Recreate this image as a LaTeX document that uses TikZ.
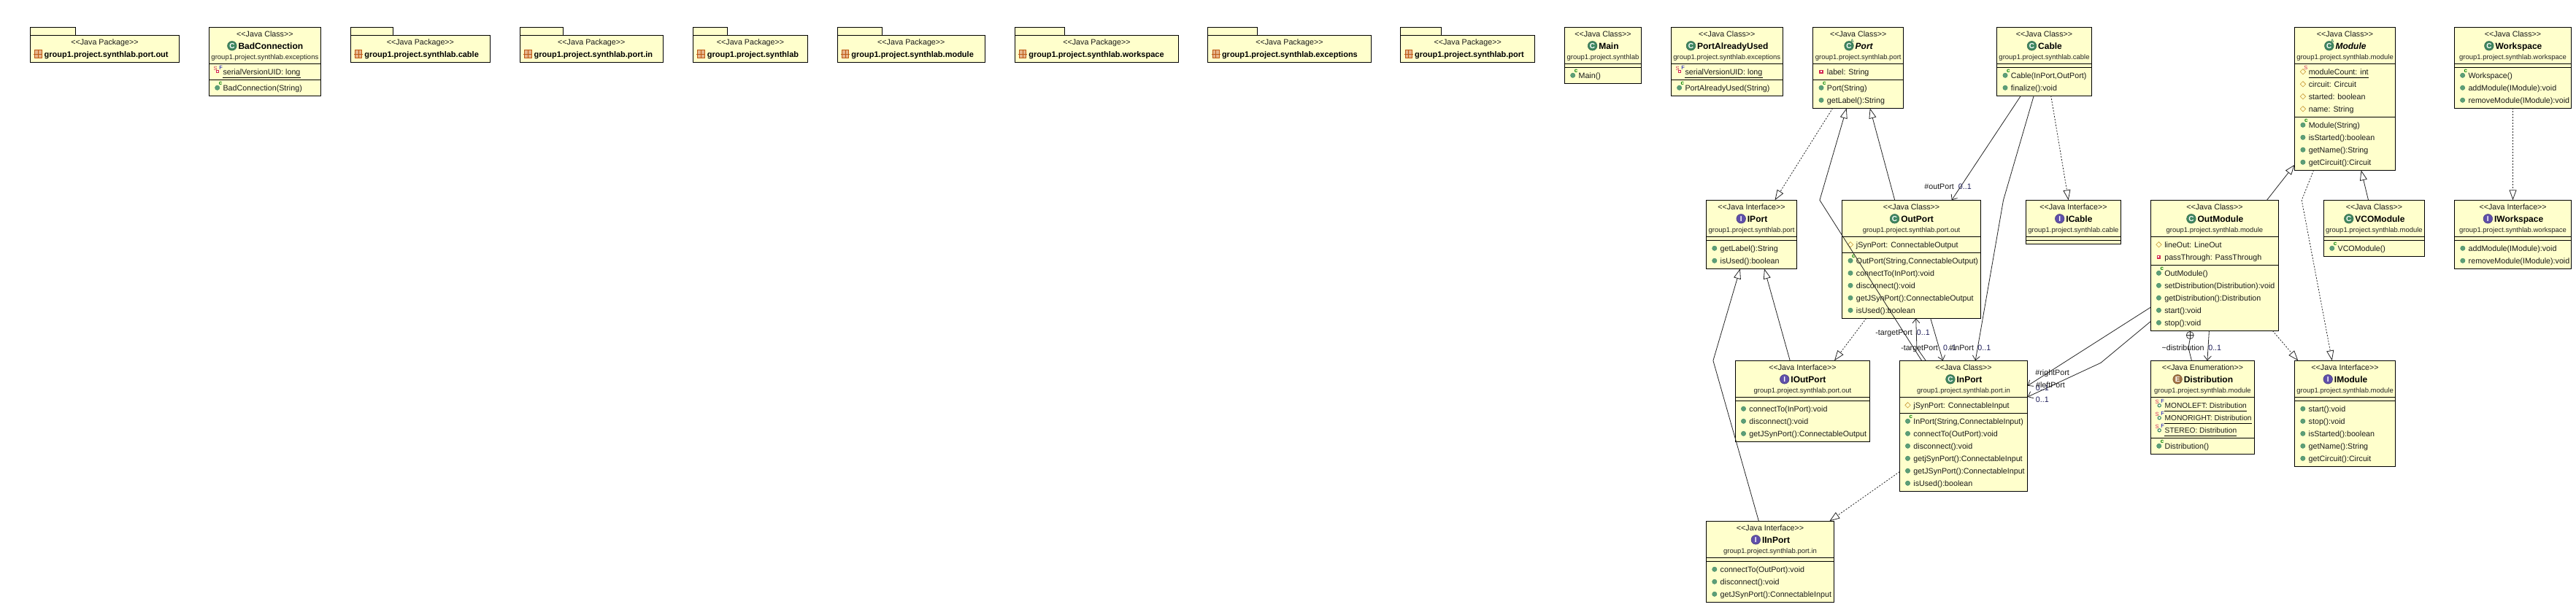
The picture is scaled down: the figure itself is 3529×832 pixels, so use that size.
\documentclass[tikz,border=0pt]{standalone}
\usepackage{fontspec}
\setmainfont[Ligatures=NoCommon]{Liberation Sans}
\usetikzlibrary{arrows.meta,calc}
\definecolor{umlfill}{RGB}{255,255,204}
\definecolor{pubgreen}{RGB}{92,158,120}
\definecolor{icongreen}{RGB}{64,136,98}
\definecolor{ifacepurple}{RGB}{96,80,170}
\definecolor{enumbrown}{RGB}{164,116,70}
\definecolor{protgold}{RGB}{200,150,50}
\definecolor{privred}{RGB}{210,40,80}
\definecolor{multblue}{RGB}{30,30,90}
\definecolor{pkgbrown}{RGB}{190,90,20}
\definecolor{pkgfill}{RGB}{230,180,140}
\newcounter{mid}
\newdimen\rowy
\newcommand{\rowx}{0}
\newcommand{\fsMember}{\fontsize{10.7}{13}\selectfont}
\newcommand{\fsStereo}{\fontsize{10.7}{13}\selectfont}
\newcommand{\fsName}{\fontsize{12}{15}\selectfont\bfseries}
\newcommand{\fsPkg}{\fontsize{9.5}{12}\selectfont}
\newcommand{\fsCaps}{\fontsize{10.2}{13}\selectfont}
\newcommand{\jcl}[1]{<{}<Java #1>{}>}
\tikzset{
  umlbox/.style={draw=black,line width=1pt,fill=umlfill,rectangle,inner sep=0pt,outer sep=0pt},
  seprule/.style={draw=black,line width=1pt},
  mtext/.style={inner sep=0pt,anchor=base west,font=\fsMember,text=black!90},
  stereotext/.style={inner sep=0pt,anchor=base,font=\fsStereo,text=black!90},
  nametext/.style={inner sep=0pt,anchor=base,font=\fsName},
  pkgtext/.style={inner sep=0pt,anchor=base,font=\fsPkg,text=black!85},
  edgelabel/.style={inner sep=0pt,anchor=base,font=\fsMember,text=black!90},
  multlabel/.style={inner sep=0pt,anchor=base,font=\fsMember,text=multblue},
  conn/.style={draw=black!85,line width=0.8pt},
  gen/.style={conn,-{Triangle[open,length=14pt,width=10pt,fill=white]}},
  real/.style={conn,dash pattern=on 2pt off 2pt,-{Triangle[open,length=14pt,width=10pt,fill=white,line width=0.8pt,sep=0pt]}},
  assoc/.style={conn,-{Straight Barb[length=6pt,width=10pt]}},
}
% ---- position helpers on node borders
\newcommand{\sw}[2]{([xshift=#2pt]#1.south west)}
\newcommand{\nwo}[3]{([shift={(#2pt,-#3pt)}]#1.north west)}
% ---- box
\newcommand{\ubox}[6]{%
  \pgfmathsetmacro\bw{#4-#2}\pgfmathsetmacro\bh{#5-#3}%
  \node[umlbox,minimum width=\bw pt,minimum height=\bh pt,anchor=north west] (#1) at (#2,#3) {};
  \foreach \s in {#6} {\draw[seprule] (#2,\s) -- (#4,\s);}
}
% header:  x1 x2 ytop  kind(color) letter stereotype name package
\newcommand{\uhead}[8]{%
  \pgfmathsetmacro\cx{(#1+#2)/2}\pgfmathsetmacro\ya{#3+12.8}\pgfmathsetmacro\yb{#3+29.8}\pgfmathsetmacro\yc{#3+44.3}%
  \pgfmathsetmacro\yi{#3+25.5}%
  \stepcounter{mid}%
  \node[stereotext] (m\arabic{mid}s) at (\cx,\ya) {#6};
  \pgfmathsetmacro\cxn{\cx+8}%
  \node[nametext] (m\arabic{mid}n) at (\cxn,\yb) {#7};
  \node[pkgtext] (m\arabic{mid}p) at (\cx,\yc) {#8};
  \fill[#4,draw=#4!70!black,line width=0.5pt] ([xshift=-8.5pt]m\arabic{mid}n.west |- 0,\yi) circle (6.3);
  \node[inner sep=0pt,font=\fontsize{10}{10}\selectfont\bfseries,text=white] (m\arabic{mid}l) at ([xshift=-8.5pt]m\arabic{mid}n.west |- 0,\yi) {#5};
}
\newcommand{\absmark}{%
  \node[inner sep=0pt,font=\fontsize{6.5}{7}\selectfont\bfseries,text=icongreen] (m\arabic{mid}a) at ([shift={(4.5pt,3pt)}]m\arabic{mid}l.north) {A};
}
% rows
\newcommand{\rowstart}[2]{\renewcommand{\rowx}{#1}\rowy=#2pt}
\newcommand{\pubdot}[2]{\fill[pubgreen,draw=icongreen,line width=0.4pt] (#1,#2) circle (3.2);}
\newcommand{\R}[2]{%
  \stepcounter{mid}%
  \pgfmathsetmacro\ry{\rowy/1pt}\pgfmathsetmacro\rb{\ry+3.8}%
  \pgfmathsetmacro\rtx{\rowx+19}\pgfmathsetmacro\rix{\rowx+11.3}%
  \node[mtext] (m\arabic{mid}) at (\rtx,\rb) {#2};
  \csname icon#1\endcsname
  \global\advance\rowy by 17pt
}
\newcommand{\iconpub}{\pubdot{\rix}{\ry}}
\newcommand{\iconctor}{\pubdot{\rix}{\ry}\node[inner sep=0pt,font=\fontsize{8}{8}\selectfont\bfseries,text=green!50!black] (m\arabic{mid}c) at ($(\rix,\ry)+(4.3,-5.5)$) {c};}
\newcommand{\iconprot}{\draw[protgold,line width=0.6pt] (\rix,\ry-3.7) -- (\rix+3.7,\ry) -- (\rix,\ry+3.7) -- (\rix-3.7,\ry) -- cycle;}
\newcommand{\iconpriv}{\fill[privred] (\rix-2.6,\ry-2.6) rectangle (\rix+2.6,\ry+2.6);\fill[white] (\rix-1,\ry-1) rectangle (\rix+1,\ry+1);}
\newcommand{\ulrow}{\draw[black,line width=0.7pt] ($(m\arabic{mid}.base west)+(0,4.2)$) -- ($(m\arabic{mid}.base east)+(0,4.2)$);}
\newcommand{\iconsprot}{\iconprot\node[inner sep=0pt,font=\fontsize{7.5}{7.5}\selectfont,text=privred] (m\arabic{mid}c) at ($(\rix,\ry)+(4,-5)$) {S};\ulrow}
\newcommand{\sfletters}{\node[inner sep=0pt,font=\fontsize{7.5}{7.5}\selectfont,text=privred] (m\arabic{mid}c) at ($(\rix,\ry)+(-2.5,-4)$) {S};\node[inner sep=0pt,font=\fontsize{7.5}{7.5}\selectfont,text=blue!70!black] (m\arabic{mid}d) at ($(\rix,\ry)+(5,-5)$) {F};\ulrow}
\newcommand{\iconsfpriv}{\draw[privred,line width=1pt,fill=white] ($(\rix,\ry)+(-1,-1.5)$) rectangle ($(\rix,\ry)+(2,1.5)$);\sfletters}
\newcommand{\iconsfpub}{\draw[icongreen,line width=1.1pt,fill=white] ($(\rix,\ry)+(0.5,0.5)$) circle (2.1);\sfletters}
% package
\newcommand{\upack}[4]{%
  \pgfmathsetmacro\cx{(#1+#2)/2}\pgfmathsetmacro\tx{#1+19}\pgfmathsetmacro\pw{#2-#1}\pgfmathsetmacro\tw{#3-#1}\pgfmathsetmacro\ix{#1+10.8}%
  \stepcounter{mid}%
  \node[umlbox,minimum width=\tw pt,minimum height=11pt,anchor=north west] (m\arabic{mid}t) at (#1,37.3) {};
  \node[umlbox,minimum width=\pw pt,minimum height=37.4pt,anchor=north west] (m\arabic{mid}b) at (#1,48.3) {};
  \node[stereotext] (m\arabic{mid}s) at (\cx,61.3) {\jcl{Package}};
  \node[inner sep=0pt,anchor=base west,font=\fontsize{11}{14}\selectfont\bfseries] (m\arabic{mid}n) at (\tx,78.3) {#4};
  \fill[pkgfill,draw=pkgbrown,line width=0.6pt] (\ix-4.7,68.5) rectangle (\ix+4.7,79.5);
  \draw[pkgbrown,line width=0.5pt] (\ix-6,74) -- (\ix+6,74) (\ix,68) -- (\ix,80);
}
\begin{document}
\begin{tikzpicture}[x=1pt,y=-1pt]
\useasboundingbox (0,0) rectangle (3529,832);
\fill[white] (0,0) rectangle (3529,832);
% packages
\upack{41.5}{245.5}{103.5}{group1.project.synthlab.port.out}
\upack{480.2}{671.6}{538.2}{group1.project.synthlab.cable}
\upack{712.4}{908.2}{771.3}{group1.project.synthlab.port.in}
\upack{949.6}{1106.4}{996.8}{group1.project.synthlab}
\upack{1147.2}{1349.4}{1208.4}{group1.project.synthlab.module}
\upack{1390.2}{1614.7}{1458.4}{group1.project.synthlab.workspace}
\upack{1654.8}{1878}{1722.4}{group1.project.synthlab.exceptions}
\upack{1918.9}{2102.5}{1974.4}{group1.project.synthlab.port}
% BadConnection
\ubox{badconn}{286.4}{37.3}{439.4}{131.3}{87.3,109.3}
\uhead{286.4}{439.4}{37.3}{icongreen}{C}{\jcl{Class}}{BadConnection}{group1.project.synthlab.exceptions}
\rowstart{286.4}{98.3}\R{sfpriv}{serialVersionUID: long}
\rowstart{286.4}{120.3}\R{ctor}{BadConnection(String)}
% Main
\ubox{mainc}{2143.4}{37.3}{2248.5}{114.3}{87.3,92.3}
\uhead{2143.4}{2248.5}{37.3}{icongreen}{C}{\jcl{Class}}{Main}{group1.project.synthlab}
\rowstart{2143.4}{103.3}\R{ctor}{Main()}
% PortAlreadyUsed
\ubox{pau}{2289.3}{37.3}{2442.3}{131.3}{87.3,109.3}
\uhead{2289.3}{2442.3}{37.3}{icongreen}{C}{\jcl{Class}}{PortAlreadyUsed}{group1.project.synthlab.exceptions}
\rowstart{2289.3}{98.3}\R{sfpriv}{serialVersionUID: long}
\rowstart{2289.3}{120.3}\R{ctor}{PortAlreadyUsed(String)}
% Port
\ubox{port}{2483.7}{37.3}{2607.7}{148.3}{87.3,109.3}
\uhead{2483.7}{2607.7}{37.3}{icongreen}{C}{\jcl{Class}}{\itshape Port}{group1.project.synthlab.port}\absmark
\rowstart{2483.7}{98.3}\R{priv}{label: String}
\rowstart{2483.7}{120.3}\R{ctor}{Port(String)}\R{pub}{getLabel():String}
% Cable
\ubox{cable}{2735.7}{37.3}{2865.3}{131.3}{87.3,92.3}
\uhead{2735.7}{2865.3}{37.3}{icongreen}{C}{\jcl{Class}}{Cable}{group1.project.synthlab.cable}
\rowstart{2735.7}{103.3}\R{ctor}{Cable(InPort,OutPort)}\R{pub}{finalize():void}
% Module
\ubox{module}{3143.6}{37.3}{3281.4}{233.3}{87.3,160.3}
\uhead{3143.6}{3281.4}{37.3}{icongreen}{C}{\jcl{Class}}{\itshape Module}{group1.project.synthlab.module}\absmark
\rowstart{3143.6}{98.3}\R{sprot}{moduleCount: int}\R{prot}{circuit: Circuit}\R{prot}{started: boolean}\R{prot}{name: String}
\rowstart{3143.6}{171.3}\R{ctor}{Module(String)}\R{pub}{isStarted():boolean}\R{pub}{getName():String}\R{pub}{getCircuit():Circuit}
% Workspace
\ubox{workspace}{3362.3}{37.3}{3522.6}{148.3}{87.3,92.3}
\uhead{3362.3}{3522.6}{37.3}{icongreen}{C}{\jcl{Class}}{Workspace}{group1.project.synthlab.workspace}
\rowstart{3362.3}{103.3}\R{ctor}{Workspace()}\R{pub}{addModule(IModule):void}\R{pub}{removeModule(IModule):void}
% IPort
\ubox{iport}{2337.5}{274.3}{2461.6}{368.3}{324.3,329.3}
\uhead{2337.5}{2461.6}{274.3}{ifacepurple}{I}{\jcl{Interface}}{IPort}{group1.project.synthlab.port}
\rowstart{2337.5}{340.3}\R{pub}{getLabel():String}\R{pub}{isUsed():boolean}
% OutPort
\ubox{outport}{2523.7}{274.3}{2713.4}{436.3}{324.3,346.3}
\uhead{2523.7}{2713.4}{274.3}{icongreen}{C}{\jcl{Class}}{OutPort}{group1.project.synthlab.port.out}
\rowstart{2523.7}{335.3}\R{prot}{jSynPort: ConnectableOutput}
\rowstart{2523.7}{357.3}\R{ctor}{OutPort(String,ConnectableOutput)}\R{pub}{connectTo(InPort):void}\R{pub}{disconnect():void}\R{pub}{getJSynPort():ConnectableOutput}\R{pub}{isUsed():boolean}
% ICable
\ubox{icable}{2775.4}{274.3}{2905.4}{334.3}{324.3,329.3}
\uhead{2775.4}{2905.4}{274.3}{ifacepurple}{I}{\jcl{Interface}}{ICable}{group1.project.synthlab.cable}
% OutModule
\ubox{outmodule}{2946.1}{274.3}{3121.7}{453.3}{324.3,363.3}
\uhead{2946.1}{3121.7}{274.3}{icongreen}{C}{\jcl{Class}}{OutModule}{group1.project.synthlab.module}
\rowstart{2946.1}{335.3}\R{prot}{lineOut: LineOut}\R{priv}{passThrough: PassThrough}
\rowstart{2946.1}{374.3}\R{ctor}{OutModule()}\R{pub}{setDistribution(Distribution):void}\R{pub}{getDistribution():Distribution}\R{pub}{start():void}\R{pub}{stop():void}
% VCOModule
\ubox{vco}{3183.4}{274.3}{3321.5}{351.3}{324.3,329.3}
\uhead{3183.4}{3321.5}{274.3}{icongreen}{C}{\jcl{Class}}{VCOModule}{group1.project.synthlab.module}
\rowstart{3183.4}{340.3}\R{ctor}{VCOModule()}
% IWorkspace
\ubox{iworkspace}{3362.5}{274.3}{3522.7}{368.3}{324.3,329.3}
\uhead{3362.5}{3522.7}{274.3}{ifacepurple}{I}{\jcl{Interface}}{IWorkspace}{group1.project.synthlab.workspace}
\rowstart{3362.5}{340.3}\R{pub}{addModule(IModule):void}\R{pub}{removeModule(IModule):void}
% IOutPort
\ubox{ioutport}{2377.2}{494.3}{2561.6}{605.3}{544.3,549.3}
\uhead{2377.2}{2561.6}{494.3}{ifacepurple}{I}{\jcl{Interface}}{IOutPort}{group1.project.synthlab.port.out}
\rowstart{2377.2}{560.3}\R{pub}{connectTo(InPort):void}\R{pub}{disconnect():void}\R{pub}{getJSynPort():ConnectableOutput}
% InPort
\ubox{inport}{2602.2}{494.3}{2777.7}{673.3}{544.3,566.3}
\uhead{2602.2}{2777.7}{494.3}{icongreen}{C}{\jcl{Class}}{InPort}{group1.project.synthlab.port.in}
\rowstart{2602.2}{555.3}\R{prot}{jSynPort: ConnectableInput}
\rowstart{2602.2}{577.3}\R{ctor}{InPort(String,ConnectableInput)}\R{pub}{connectTo(OutPort):void}\R{pub}{disconnect():void}\R{pub}{getjSynPort():ConnectableInput}\R{pub}{getJSynPort():ConnectableInput}\R{pub}{isUsed():boolean}
% Distribution
\ubox{distribution}{2946.4}{494.3}{3088.5}{622.3}{544.3,600.3}
\uhead{2946.4}{3088.5}{494.3}{enumbrown}{E}{\jcl{Enumeration}}{Distribution}{group1.project.synthlab.module}
\rowstart{2946.4}{555.3}\R{sfpub}{\fsCaps MONOLEFT: Distribution}\R{sfpub}{\fsCaps MONORIGHT: Distribution}\R{sfpub}{\fsCaps STEREO: Distribution}
\rowstart{2946.4}{611.3}\R{ctor}{Distribution()}
% IModule
\ubox{imodule}{3143.5}{494.3}{3281.6}{639.3}{544.3,549.3}
\uhead{3143.5}{3281.6}{494.3}{ifacepurple}{I}{\jcl{Interface}}{IModule}{group1.project.synthlab.module}
\rowstart{3143.5}{560.3}\R{pub}{start():void}\R{pub}{stop():void}\R{pub}{isStarted():boolean}\R{pub}{getName():String}\R{pub}{getCircuit():Circuit}
% IInPort
\ubox{iinport}{2337.5}{714.3}{2512.5}{825.3}{764.3,769.3}
\uhead{2337.5}{2512.5}{714.3}{ifacepurple}{I}{\jcl{Interface}}{IInPort}{group1.project.synthlab.port.in}
\rowstart{2337.5}{780.3}\R{pub}{connectTo(OutPort):void}\R{pub}{disconnect():void}\R{pub}{getJSynPort():ConnectableInput}
% bends
\coordinate (bInPortPort) at (2492.9,274.3);
\coordinate (bTarget) at (2625.9,476.7);
\coordinate (bCableIn) at (2744.5,274.3);
\coordinate (bIInPort) at (2346.9,494.3);
\coordinate (bModIMod) at (3153.2,274.3);
\coordinate (bLeftPort) at (2878,497.3);
\coordinate (bDist) at (2998,476.7);
% composition marker
\node[circle,draw=black!85,line width=0.7pt,minimum size=10pt,inner sep=0pt,outer sep=0pt,fill=white] (comp) at (3000.2,459.5) {};
\draw[conn,line width=0.6pt] (comp.north) -- (comp.south) (comp.west) -- (comp.east);
% connectors
\draw[real] \sw{port}{27} -- \nwo{iport}{94}{0};
\draw[gen] \nwo{outport}{72}{0} -- \sw{port}{78};
\draw[gen] \nwo{inport}{30.4}{0} -- (bInPortPort) -- \sw{port}{46};
\draw[assoc] \nwo{inport}{36}{0} -- (bTarget) -- \sw{outport}{101};
\draw[assoc] \sw{outport}{121} -- \nwo{inport}{59.4}{0};
\draw[assoc] \sw{cable}{32.7} -- \nwo{outport}{150}{0};
\draw[assoc] \sw{cable}{50.5} -- (bCableIn) -- \nwo{inport}{104}{0};
\draw[real] \sw{cable}{74} -- \nwo{icable}{58.3}{0};
\draw[gen] \nwo{ioutport}{75}{0} -- \sw{iport}{79.5};
\draw[gen] \nwo{iinport}{71.9}{0} -- (bIInPort) -- \sw{iport}{46.4};
\draw[real] \sw{outport}{33} -- \nwo{ioutport}{135.8}{0};
\draw[real] \nwo{inport}{0}{152.4} -- \nwo{iinport}{168.8}{0};
\draw[gen] \nwo{outmodule}{159.4}{0} -- \nwo{module}{0}{188.4};
\draw[gen] \nwo{vco}{61.1}{0} -- \sw{module}{91};
\draw[real] \sw{module}{26} -- (bModIMod) -- \nwo{imodule}{51.3}{0};
\draw[real] \sw{workspace}{80.2} -- \nwo{iworkspace}{80}{0};
\draw[real] \sw{outmodule}{167.1} -- \nwo{imodule}{4.8}{0};
\draw[conn] (comp.south) -- (bDist) -- \nwo{distribution}{56}{0};
\draw[assoc] \sw{outmodule}{80.3} -- \nwo{distribution}{77.5}{0};
\draw[assoc] \nwo{outmodule}{0}{147} -- \nwo{inport}{175.5}{34.4};
\draw[assoc] \nwo{outmodule}{0}{166.4} -- (bLeftPort) -- \nwo{inport}{175.5}{49.7};
% labels
\node[edgelabel] (l1) at (2656.6,259.8) {\#outPort};
\node[multlabel] (l2) at (2691.8,259.8) {0..1};
\node[edgelabel] (l3) at (2594.6,459) {-targetPort};
\node[multlabel] (l4) at (2634.8,459) {0..1};
\node[edgelabel] (l5) at (2629.5,480) {-targetPort};
\node[multlabel] (l6) at (2671,480) {0..1};
\node[edgelabel] (l7) at (2687,480) {\#inPort};
\node[multlabel] (l8) at (2718.3,480) {0..1};
\node[edgelabel] (l9) at (2811.6,514) {\#rightPort};
\node[multlabel] (l10) at (2797.8,535) {0..1};
\node[edgelabel] (l11) at (2809,531) {\#leftPort};
\node[multlabel] (l12) at (2797.8,551) {0..1};
\node[edgelabel] (l13) at (2990.6,480) {\textasciitilde distribution};
\node[multlabel] (l14) at (3034.2,480) {0..1};
\end{tikzpicture}
\end{document}
